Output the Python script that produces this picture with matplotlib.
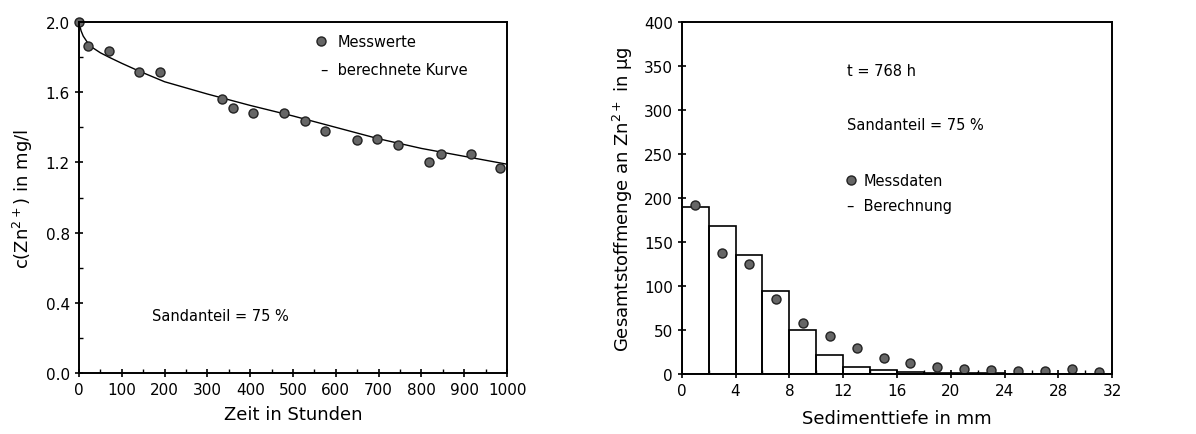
import matplotlib.pyplot as plt
from matplotlib.ticker import MultipleLocator

# Left: concentration over time
t_mess = [0, 22, 70, 141, 190, 335, 359, 407, 480, 527, 575, 649, 697, 745, 818, 845, 915, 984]
c_mess = [2.0, 1.865, 1.836, 1.717, 1.717, 1.561, 1.508, 1.48, 1.48, 1.438, 1.379, 1.328, 1.335,
          1.30, 1.202, 1.246, 1.246, 1.166]
t_kurve = [0, 5, 10, 25, 50, 70, 100, 141, 200, 300, 400, 500, 600, 700, 800, 900, 1000]
c_kurve = [2.0, 1.95, 1.92, 1.865, 1.825, 1.80, 1.765, 1.72, 1.66, 1.59, 1.525, 1.465, 1.40,
           1.335, 1.28, 1.235, 1.19]

# Right: depth profile
tiefe_bar = [0, 2, 4, 6, 8, 10, 12, 14, 16, 18, 20, 22, 24, 26, 28, 30]
menge_ber = [190, 168, 135, 94, 50, 21, 8, 4, 2.5, 1.5, 1, 0.8, 0.5, 0.3, 0.2, 0.1]
tiefe_mess = [1, 3, 5, 7, 9, 11, 13, 15, 17, 19, 21, 23, 25, 27, 29, 31]
menge_mess = [192, 138, 125, 85, 58, 43, 29, 18.5, 13, 7.6, 5.7, 4.8, 3.8, 3, 5.5, 2.7]

plt.rcParams['font.family'] = ['DejaVu Sans']
plt.rcParams['font.size'] = 11

fig = plt.figure(figsize=(11.96, 4.35), dpi=100)
ax1 = fig.add_axes([0.066, 0.140, 0.358, 0.807])
ax2 = fig.add_axes([0.570, 0.138, 0.360, 0.809])

mk = dict(marker='o', linestyle='none', markersize=6.5, markerfacecolor='#666666',
          markeredgecolor='#222222', markeredgewidth=1.0)

for ax in (ax1, ax2):
    for s in ax.spines.values():
        s.set_linewidth(1.4)
    ax.tick_params(which='major', direction='inout', length=6, width=1.2, labelsize=11)
    ax.tick_params(which='minor', direction='in', length=3, width=1.0)

# left panel
ax1.plot(t_kurve, c_kurve, color='black', lw=1.0)
ax1.plot(t_mess, c_mess, **mk, clip_on=False)
ax1.set_xlim(0, 1000)
ax1.set_ylim(0, 2.0)
ax1.xaxis.set_major_locator(MultipleLocator(100))
ax1.xaxis.set_minor_locator(MultipleLocator(50))
ax1.yaxis.set_major_locator(MultipleLocator(0.4))
ax1.yaxis.set_minor_locator(MultipleLocator(0.2))
ax1.yaxis.set_major_formatter(lambda v, p: f'{v:.1f}')
ax1.set_xlabel('Zeit in Stunden', fontsize=13, labelpad=6)
ax1.set_ylabel('c(Zn$^{2+}$) in mg/l', fontsize=13, labelpad=8)
ax1.plot([565], [1.89], **mk)
ax1.text(605, 1.89, 'Messwerte', va='center', fontsize=10.5)
ax1.text(565, 1.73, '–  berechnete Kurve', va='center', ha='left', fontsize=10.5)
ax1.text(170, 0.33, 'Sandanteil = 75 %', va='center', fontsize=10.5)

# right panel
ax2.bar(tiefe_bar, menge_ber, width=2, align='edge', fill=False, edgecolor='black', lw=1.2)
ax2.axhline(0, color='black', lw=0.8, ls=(0, (4, 3)))
ax2.plot(tiefe_mess, menge_mess, **mk)
ax2.set_xlim(0, 32)
ax2.set_ylim(0, 400)
ax2.xaxis.set_major_locator(MultipleLocator(4))
ax2.xaxis.set_minor_locator(MultipleLocator(2))
ax2.yaxis.set_major_locator(MultipleLocator(50))
ax2.set_xlabel('Sedimenttiefe in mm', fontsize=13, labelpad=8)
ax2.set_ylabel('Gesamtstoffmenge an Zn$^{2+}$ in µg', fontsize=13, labelpad=6)
ax2.text(12.3, 345, 't = 768 h', va='center', fontsize=10.5)
ax2.text(12.3, 284, 'Sandanteil = 75 %', va='center', fontsize=10.5)
ax2.plot([12.6], [220], **mk)
ax2.text(13.5, 220, 'Messdaten', va='center', fontsize=10.5)
ax2.text(12.3, 191, '–  Berechnung', va='center', fontsize=10.5)

fig.savefig('out.png', dpi=100)
